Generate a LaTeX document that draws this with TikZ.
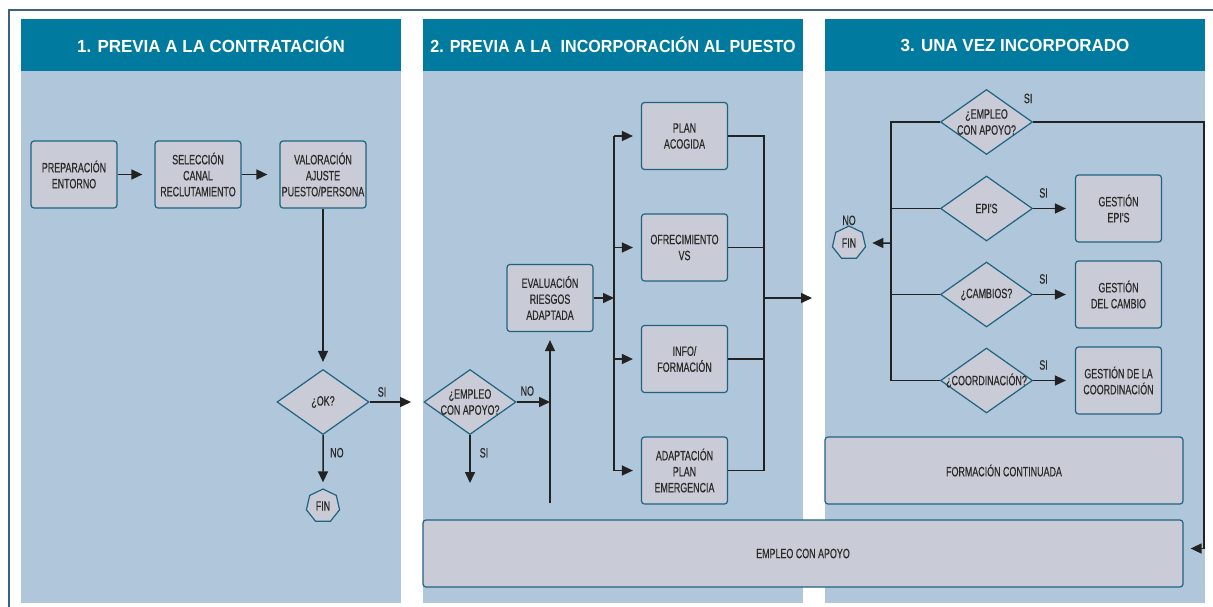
\documentclass[tikz,border=0pt]{standalone}
\usepackage{fontspec}
\setmainfont{Liberation Sans}
\newfontfamily\narrowfont[FakeStretch=0.66, FakeBold=0.4]{Liberation Sans}
\newfontfamily\headfont[FakeStretch=0.97]{Liberation Sans}
\newfontfamily\headfontn[FakeStretch=0.92]{Liberation Sans}
\usepackage{tikz}
\usetikzlibrary{shapes.geometric, arrows.meta}
\definecolor{headblue}{HTML}{007B9F}
\definecolor{bodyblue}{HTML}{B0C6DA}
\definecolor{boxgray}{HTML}{C9CCD6}
\definecolor{boxline}{HTML}{1F6381}
\definecolor{framecol}{HTML}{40607E}
\definecolor{inkcol}{HTML}{222222}
\definecolor{txtcol}{HTML}{2A2A2A}
\newcommand{\boxfont}{\narrowfont\fontsize{13.5}{16}\selectfont}

\begin{document}
\begin{tikzpicture}[x=1pt, y=-1pt,
    headbar/.style={rectangle, fill=headblue, minimum width=380pt, minimum height=52pt, inner sep=0pt, text=white, font=\headfont\bfseries\fontsize{17.5}{20}\selectfont},
    proc/.style={rectangle, rounded corners=3pt, draw=boxline, line width=1.2pt, fill=boxgray, minimum width=86pt, minimum height=67pt, inner sep=1pt, align=center, text=txtcol, font=\boxfont},
    decision/.style={diamond, draw=boxline, line width=1.2pt, fill=boxgray, minimum width=92pt, minimum height=65pt, inner sep=0pt},
    fin/.style={regular polygon, regular polygon sides=7, draw=boxline, line width=1.2pt, fill=boxgray, minimum size=34pt, inner sep=0pt, text=txtcol, font=\boxfont},
    lbl/.style={inner sep=0pt, text=txtcol, font=\boxfont},
    arr/.style={draw=inkcol, line width=1.5pt, -{Triangle[length=11pt, width=10pt]}},
    conn/.style={draw=inkcol, line width=1.5pt},
    every label/.style={inner sep=0pt, align=center, text=txtcol, font=\boxfont}]
    \useasboundingbox (0,0) rectangle (1213,606);
    \fill[white] (0,0) rectangle (1213,606);
    \clip (0,0) rectangle (1213,606);
    \draw[framecol, line width=2.5pt] (9,700) -- (9,10) -- (1300,10);

    \fill[bodyblue] (21,71) rectangle (401,603);
    \fill[bodyblue] (423,71) rectangle (803,603);
    \fill[bodyblue] (825,71) rectangle (1205,603);
    \node[headbar] (h1) at (211,45) {1. PREVIA A LA CONTRATACIÓN};
    \node[headbar, font=\headfontn\bfseries\fontsize{17.5}{20}\selectfont] (h2) at (613,45) {2. PREVIA A LA\ \ INCORPORACIÓN AL PUESTO};
    \node[headbar] (h3) at (1015,45) {3. UNA VEZ INCORPORADO};

    \node[proc] (prep) at (74,174.5) {PREPARACIÓN\\ENTORNO};
    \node[proc] (sel) at (198,174.5) {SELECCIÓN\\CANAL\\RECLUTAMIENTO};
    \node[proc] (val) at (323,174.5) {VALORACIÓN\\AJUSTE\\PUESTO/PERSONA};
    \node[decision, label=center:{¿OK?}] (ok) at (323,402) {};
    \node[fin] (fin1) at (323,506) {FIN};
    \coordinate (okSI) at (411,402);

    \draw[arr, shorten >=12pt] (prep) -- (sel);
    \draw[arr, shorten >=12pt] (sel) -- (val);
    \draw[arr, shorten >=7pt] (val) -- (ok);
    \draw[arr] (ok) -- (okSI) node[lbl, pos=0.3, above=4.5pt] {SI};
    \draw[arr, shorten >=6pt] (ok) -- (fin1) node[lbl, pos=0.33, right=6.5pt] {NO};

    \node[decision, label=center:{¿EMPLEO\\CON APOYO?}] (emp2) at (470,402) {};
    \node[proc] (eva) at (550,298) {EVALUACIÓN\\RIESGOS\\ADAPTADA};
    \node[proc] (plan) at (684.5,136) {PLAN\\ACOGIDA};
    \node[proc] (ofre) at (684.5,247.5) {OFRECIMIENTO\\VS};
    \node[proc] (info) at (684.5,359) {INFO/\\FORMACIÓN};
    \node[proc] (adap) at (684.5,470.5) {ADAPTACIÓN\\PLAN\\EMERGENCIA};
    \coordinate (up0) at (550,503);
    \coordinate (siE2) at (470,483);
    \coordinate (busL) at (614,298);
    \coordinate (busR) at (764,298);
    \coordinate (toC3) at (812,298);

    \draw[arr] (emp2) -- (emp2 -| up0) node[lbl, pos=0.32, above=5.5pt] {NO};
    \draw[arr] (emp2) -- (siE2) node[lbl, pos=0.37, right=9pt] {SI};
    \draw[arr, shorten >=8pt] (up0) -- (eva);
    \draw[arr] (eva) -- (busL);
    \draw[conn] (busL |- plan) -- (busL |- adap);
    \draw[arr, shorten >=8pt] (busL |- plan) -- (plan);
    \draw[arr, shorten >=8pt] (busL |- ofre) -- (ofre);
    \draw[arr, shorten >=8pt] (busL |- info) -- (info);
    \draw[arr, shorten >=8pt] (busL |- adap) -- (adap);
    \draw[conn] (plan) -- (plan -| busR) -- (busR |- adap) -- (adap);
    \draw[conn] (ofre) -- (ofre -| busR);
    \draw[conn] (info) -- (info -| busR);
    \draw[arr] (busR) -- (toC3);

    \node[decision, label=center:{¿EMPLEO\\CON APOYO?}] (emp3) at (986.5,122) {};
    \node[decision, label=center:{EPI'S}] (epi) at (986.5,208.5) {};
    \node[decision, label=center:{¿CAMBIOS?}] (cam) at (986.5,294.5) {};
    \node[decision, label=center:{¿COORDINACIÓN?}] (coo) at (986.5,380.5) {};
    \node[proc] (gepi) at (1118.5,208.5) {GESTIÓN\\EPI'S};
    \node[proc] (gcam) at (1118.5,294.5) {GESTIÓN\\DEL CAMBIO};
    \node[proc] (gcoo) at (1118.5,380.5) {GESTIÓN DE LA\\COORDINACIÓN};
    \node[fin, label distance=6pt, label=above:NO] (fin2) at (849,243) {FIN};
    \node[proc, minimum width=358pt] (form) at (1004,470.5) {FORMACIÓN CONTINUADA};
    \node[proc, minimum width=760pt] (empl) at (803,553.5) {EMPLEO CON APOYO};
    \coordinate (bl) at (891,243);
    \coordinate (rt) at (1204,122);

    \draw[conn] (emp3.west) -| (bl |- coo) -- (coo.west);
    \draw[conn] (epi.west) -- (epi.west -| bl);
    \draw[conn] (cam.west) -- (cam.west -| bl);
    \draw[arr, shorten >=7pt] (bl) -- (fin2);
    \draw[arr, shorten >=7pt] (emp3.east) -- node[lbl, pos=0, above=18pt, xshift=-5pt] {SI} (rt) |- ([yshift=5pt]empl.east);
    \draw[arr, shorten >=9pt] (epi) -- (gepi) node[lbl, pos=0.25, above=10pt] {SI};
    \draw[arr, shorten >=9pt] (cam) -- (gcam) node[lbl, pos=0.25, above=10pt] {SI};
    \draw[arr, shorten >=9pt] (coo) -- (gcoo) node[lbl, pos=0.25, above=10pt] {SI};
\end{tikzpicture}
\end{document}
